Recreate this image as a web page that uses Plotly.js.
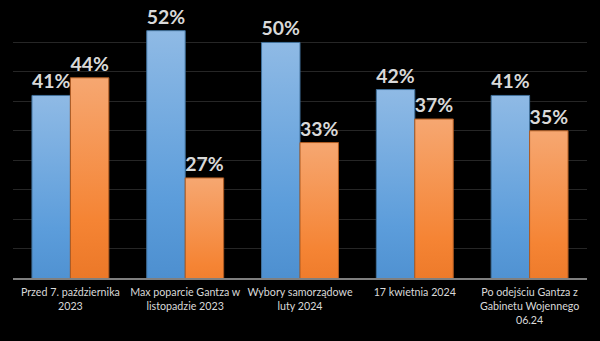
<!DOCTYPE html>
<html>
<head>
<meta charset="utf-8">
<script src="https://cdn.plot.ly/plotly-3.0.1.min.js"></script>
<style>
html,body{margin:0;padding:0;background:#000;}
#chart{width:600px;height:341px;}
</style>
</head>
<body>
<div id="chart"></div>
<script>
const categories = [
  "Przed 7. października<br>2023",
  "Max poparcie Gantza w<br>listopadzie 2023",
  "Wybory samorządowe<br>luty 2024",
  "17 kwietnia 2024",
  "Po odejściu Gantza z<br>Gabinetu Wojennego<br>06.24"
];
const blueValues = [41, 52, 50, 42, 41];
const orangeValues = [44, 27, 33, 37, 35];
const yRange = [10, 55];
const yTick = 5;

const labelFont = {family: "Lato, 'Open Sans', sans-serif", size: 19.5, color: "#D9D9D9", weight: 700};

const traces = [
  {
    type: "bar", x: categories, y: blueValues, name: "blue",
    text: blueValues.map(v => v + "%"), textposition: "outside", cliponaxis: false,
    textfont: labelFont,
    marker: {color: "#5B9BD5", line: {color: "#41719C", width: 1}}
  },
  {
    type: "bar", x: categories, y: orangeValues, name: "orange",
    text: orangeValues.map(v => v + "%"), textposition: "outside", cliponaxis: false,
    textfont: labelFont,
    marker: {color: "#ED7D31", line: {color: "#AE5A21", width: 1}}
  }
];

const layout = {
  width: 600, height: 341,
  paper_bgcolor: "#000", plot_bgcolor: "#000",
  margin: {l: 13, r: 13, t: 13, b: 63},
  barmode: "group", bargap: 0.33, bargroupgap: 0,
  showlegend: false,
  font: {family: "Lato, 'Open Sans', sans-serif", color: "#D9D9D9"},
  xaxis: {
    showgrid: false, showline: true, linecolor: "#7F7F7F", linewidth: 2,
    ticks: "", tickangle: 0, ticklabelstandoff: 3,
    tickfont: {size: 10.7, color: "#D9D9D9"}, automargin: false
  },
  yaxis: {
    range: yRange, dtick: yTick, tick0: 0, showticklabels: false,
    gridcolor: "#262626", gridwidth: 1, zeroline: false, showline: false, ticks: ""
  }
};

Plotly.newPlot("chart", traces, layout, {staticPlot: true, displayModeBar: false}).then(gd => {
  const svg = gd.querySelector("svg.main-svg");
  const ns = "http://www.w3.org/2000/svg";
  let defs = svg.querySelector("defs");
  const mk = (id, stops) => {
    const g = document.createElementNS(ns, "linearGradient");
    g.setAttribute("id", id);
    g.setAttribute("x1", "0"); g.setAttribute("y1", "0");
    g.setAttribute("x2", "0"); g.setAttribute("y2", "1");
    stops.forEach(([o, c]) => {
      const s = document.createElementNS(ns, "stop");
      s.setAttribute("offset", o); s.setAttribute("stop-color", c);
      g.appendChild(s);
    });
    defs.appendChild(g);
  };
  mk("gBlue", [[0, "#8FBAE5"], [0.55, "#5C9DDB"], [1, "#4285C7"]]);
  mk("gOrange", [[0, "#F6A771"], [0.55, "#F58434"], [1, "#E26C1C"]]);
  const traceGroups = gd.querySelectorAll("g.trace.bars");
  traceGroups.forEach((tg, i) => {
    tg.querySelectorAll("g.point path").forEach(p => {
      p.style.fill = i === 0 ? "url(#gBlue)" : "url(#gOrange)";
    });
  });
});
</script>
</body>
</html>
